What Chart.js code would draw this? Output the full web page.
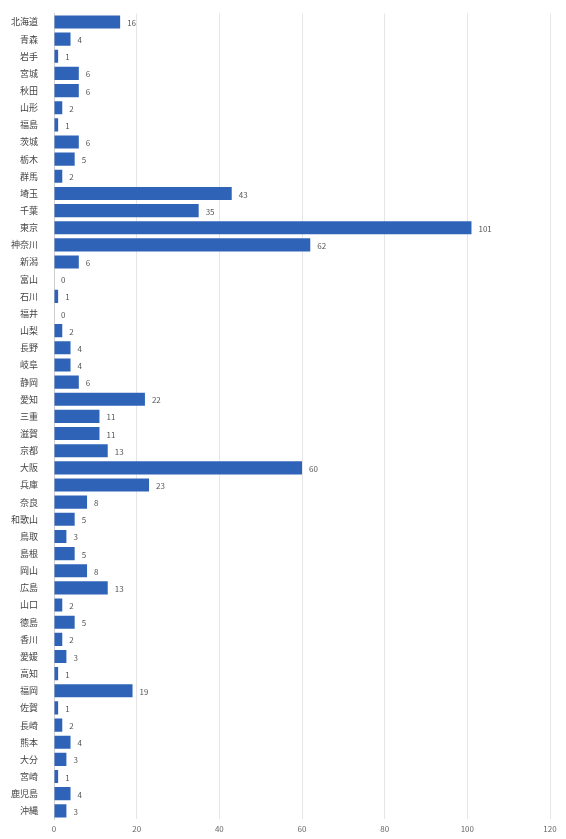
<!DOCTYPE html>
<html lang="ja">
<head>
<meta charset="utf-8">
<script src="https://cdn.jsdelivr.net/npm/chart.js@4/dist/chart.umd.min.js"></script>
<style>
    html, body { margin: 0; padding: 0; background: #fff; }
    #wrap { width: 566px; height: 839px; position: relative; }
</style>
</head>
<body>
<div id="wrap"><canvas id="chart"></canvas></div>
<script>
const prefectures = [
    '北海道', '青森', '岩手', '宮城', '秋田', '山形', '福島', '茨城', '栃木', '群馬',
    '埼玉', '千葉', '東京', '神奈川', '新潟', '富山', '石川', '福井', '山梨', '長野',
    '岐阜', '静岡', '愛知', '三重', '滋賀', '京都', '大阪', '兵庫', '奈良', '和歌山',
    '鳥取', '島根', '岡山', '広島', '山口', '徳島', '香川', '愛媛', '高知', '福岡',
    '佐賀', '長崎', '熊本', '大分', '宮崎', '鹿児島', '沖縄'
];

const counts = [
    16, 4, 1, 6, 6, 2, 1, 6, 5, 2,
    43, 35, 101, 62, 6, 0, 1, 0, 2, 4,
    4, 6, 22, 11, 11, 13, 60, 23, 8, 5,
    3, 5, 8, 13, 2, 5, 2, 3, 1, 19,
    1, 2, 4, 3, 1, 4, 3
];

const xTicks = [0, 20, 40, 60, 80, 100, 120];

const fontFamily = "'Noto Sans CJK JP', 'Noto Sans', sans-serif";

// writes the value just past the end of each bar
const valueLabels = {
    id: 'valueLabels',
    afterDatasetsDraw(chart) {
        const ctx = chart.ctx;
        const meta = chart.getDatasetMeta(0);
        ctx.save();
        ctx.font = "8px " + fontFamily;
        ctx.fillStyle = '#555';
        ctx.textAlign = 'left';
        ctx.textBaseline = 'middle';
        meta.data.forEach((bar, i) => {
            ctx.fillText(String(counts[i]), bar.x + 7, bar.y + 1);
        });
        ctx.restore();
    }
};

const ctx = document.getElementById('chart').getContext('2d');

new Chart(ctx, {
    type: 'bar',
    data: {
        labels: prefectures,
        datasets: [{
            data: counts,
            backgroundColor: '#2f63b8',
            borderWidth: 0,
            categoryPercentage: 0.9,
            barPercentage: 0.85
        }]
    },
    options: {
        indexAxis: 'y',
        responsive: true,
        maintainAspectRatio: false,
        animation: false,
        layout: { padding: { top: 0, right: 16, left: 3, bottom: 0 } },
        plugins: {
            legend: { display: false },
            tooltip: { enabled: false }
        },
        scales: {
            x: {
                min: xTicks[0],
                max: xTicks[xTicks.length - 1],
                afterBuildTicks(axis) {
                    axis.ticks = xTicks.map(v => ({ value: v }));
                },
                grid: { color: '#e6e6e6', drawTicks: false },
                border: { display: false },
                ticks: { color: '#666', font: { size: 8, family: fontFamily }, padding: 5 }
            },
            y: {
                grid: { display: false },
                border: { display: true, color: '#cfcfcf' },
                ticks: { color: '#444', font: { size: 9, family: fontFamily }, autoSkip: false, padding: 8 }
            }
        }
    },
    plugins: [valueLabels]
});
</script>
</body>
</html>
